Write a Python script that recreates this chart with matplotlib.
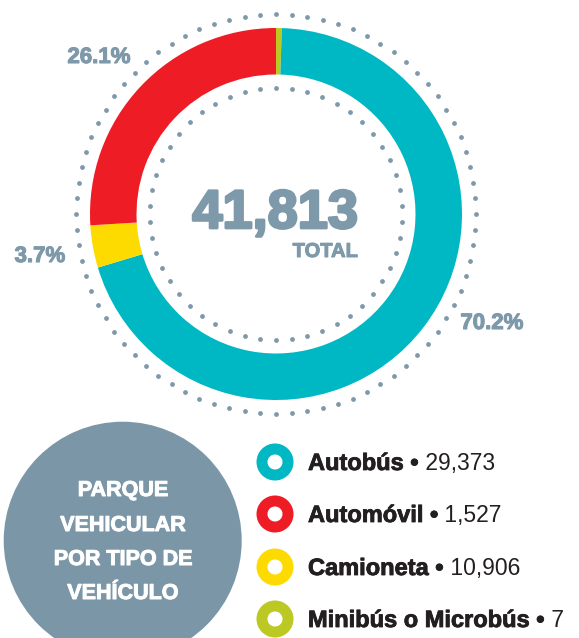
import numpy as np
import matplotlib.pyplot as plt
import matplotlib.patheffects as pe
from matplotlib.patches import Ellipse, Wedge

plt.rcParams['font.family'] = ['Liberation Sans', 'DejaVu Sans']

# donut slices as drawn, clockwise from 12 o'clock
slice_names = ['Minibús o Microbús', 'Autobús', 'Camioneta', 'Automóvil']
slice_share = [0.5, 70.2, 3.7, 26.1]
slice_colors = ['#BDC923', '#00B7C4', '#FEDB00', '#EE1D25']

pct_labels = ['26.1%', '3.7%', '70.2%']
total_label = '41,813'

legend_names = ['Autobús', 'Automóvil', 'Camioneta', 'Minibús o Microbús']
legend_values = ['29,373', '1,527', '10,906', '7']
legend_colors = ['#00B7C4', '#EE1D25', '#FEDB00', '#BDC923']

title_lines = ['PARQUE', 'VEHICULAR', 'POR TIPO DE', 'VEHÍCULO']

grey = '#7E99A9'
dark = '#231F20'


def heavy(c, w):
    return [pe.withStroke(linewidth=w, foreground=c)]


W, H = 579, 638
fig = plt.figure(figsize=(W / 100, H / 100), dpi=100)

# donut axes: centre (276, 214) px, outer radius 186 px
cx, cy, R = 276, 214, 186
half = 1.1 * R
dax = fig.add_axes([(cx - half) / W, (H - cy - half) / H, 2 * half / W, 2 * half / H])
dax.pie(slice_share, colors=slice_colors, startangle=90, counterclock=False,
        radius=1, wedgeprops=dict(width=0.25, linewidth=0))
dax.set_xlim(-1.1, 1.1)
dax.set_ylim(-1.1, 1.1)
dax.set_aspect('auto')
dax.axis('off')

# dotted rings
for r, n in [(1.075, 80), (0.677, 50)]:
    t = np.linspace(0, 2 * np.pi, n, endpoint=False) + np.pi / 2
    dax.scatter(r * np.cos(t), r * np.sin(t), s=12, color=grey, linewidths=0)

# overlay in pixel coordinates
ax = fig.add_axes([0, 0, 1, 1])
ax.set_xlim(0, W)
ax.set_ylim(H, 0)
ax.axis('off')

# percentage labels
pct_pos = [(99, 63), (40, 262), (492, 329)]
for lab, (x, y) in zip(pct_labels, pct_pos):
    ax.text(x, y, lab, ha='center', va='baseline', fontsize=16,
            fontweight='bold', color=grey, path_effects=heavy(grey, 0.8))

ax.text(275, 228, total_label, ha='center', va='baseline', fontsize=39,
        fontweight='bold', color=grey, path_effects=heavy(grey, 2))
ax.text(358, 257, 'TOTAL', ha='right', va='baseline', fontsize=14.5,
        fontweight='bold', color=grey, path_effects=heavy(grey, 0.7))

# grey title bubble
ax.add_patch(Ellipse((122.7, 540.7), 238, 238, color='#7B97A7', lw=0))
for line, y in zip(title_lines, [496, 531, 565, 599]):
    ax.text(122.7, y, line, ha='center', va='baseline', fontsize=15.5,
            fontweight='bold', color='white', path_effects=heavy('white', 0.7))

# legend
renderer = fig.canvas.get_renderer()
inv = ax.transData.inverted()
for i, (name, val, col) in enumerate(zip(legend_names, legend_values, legend_colors)):
    base = [470, 522, 575, 627][i]
    ax.add_patch(Wedge((275, base - 8), 18.5, 0, 360, width=11, color=col, lw=0))
    t = ax.text(308, base, name + ' \u2022', ha='left', va='baseline', fontsize=17,
                fontweight='bold', color=dark, path_effects=heavy(dark, 0.6))
    bb = t.get_window_extent(renderer)
    x_end = inv.transform((bb.x1, bb.y0))[0]
    ax.text(x_end, base, ' ' + val, ha='left', va='baseline', fontsize=16.5,
            color=dark)

fig.savefig('out.png', dpi=100)
